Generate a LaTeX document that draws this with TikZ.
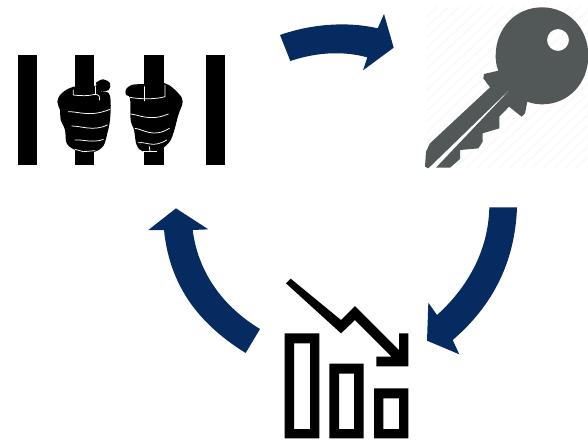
\documentclass[tikz,border=0pt]{standalone}
\definecolor{navy}{HTML}{062B60}
\definecolor{keygrey}{HTML}{525758}
\definecolor{hatch}{HTML}{FAFAFA}
\tikzset{
  zoomed/.style={x=0.33333pt,y=-0.33333pt},
  bigarrow/.style={fill=navy,draw=none},
  barshape/.style={fill=black,draw=none},
  handshape/.style={fill=black,draw=none},
  handline/.style={draw=white,line width=0.75pt,line cap=round},
  chartshape/.style={fill=black,draw=none,even odd rule},
}
\begin{document}
\begin{tikzpicture}[x=1pt,y=-1pt]
\useasboundingbox (0,0) rectangle (588,442);
% key background hatch
\begin{scope}
\clip (427,6) rectangle (588,168);
\foreach \k in {0,11,...,340}{
  \draw[hatch,line width=2pt] (427+\k-170,168) -- (427+\k,6);
}
\end{scope}
% prison bars and hands
\begin{scope}[shift={(0pt,-40pt)},zoomed]
\fill[barshape] (53,44) rectangle (112,375);
\fill[barshape] (224,44) rectangle (283,375);
\fill[barshape] (433,44) rectangle (491,375);
\fill[barshape] (617,44) rectangle (676,375);
\fill[handshape] plot[smooth cycle,tension=0.6] coordinates {(222,140) (185,160) (172,185) (180,210) (182,240) (195,270) (200,310) (225,330) (250,338) (285,335) (310,318) (322,280) (330,240) (332,185) (325,158) (300,156) (326,150) (330,130) (310,118) (288,128) (285,138)};
\fill[handshape] plot[smooth cycle,tension=0.6] coordinates {(495,130) (535,160) (548,185) (535,225) (520,280) (505,310) (470,335) (430,335) (410,315) (402,270) (392,240) (390,175) (378,165) (378,148) (395,135) (432,132)};
\draw[handline] (220,150) -- (220,165) .. controls (245,168) and (265,168) .. (285,163) .. controls (295,163) and (302,170) .. (298,180);
\draw[handline] (285,140) -- (285,163);
\draw[handline] (205,215) .. controls (240,215) and (270,232) .. (330,208);
\draw[handline] (215,258) .. controls (245,258) and (280,275) .. (322,255);
\draw[handline] (225,300) .. controls (250,298) and (280,310) .. (310,298);
\draw[handline] (225,328) -- (250,335) -- (285,332);
\draw[handline] (390,172) .. controls (420,178) and (470,178) .. (495,170) -- (495,135);
\draw[handline] (432,140) -- (432,183);
\draw[handline] (392,222) .. controls (420,225) and (450,245) .. (505,222);
\draw[handline] (405,265) .. controls (430,268) and (460,295) .. (508,265);
\draw[handline] (415,308) .. controls (440,305) and (460,325) .. (500,300);
\draw[handline] (430,335) -- (470,335);
\draw[handline] (448,320) -- (450,335);
\end{scope}
% key
\begin{scope}[shift={(410pt,0pt)},zoomed]
\fill[keygrey,even odd rule]
  (396,22) .. controls (475,22) and (535,85) .. (535,167)
  .. controls (535,250) and (475,313) .. (396,313)
  .. controls (380,313) and (365,310) .. (352,305)
  -- (345,340) -- (335,350) -- (297,320) -- (268,350) -- (268,385) -- (218,400)
  -- (218,425) -- (205,445) -- (150,450) -- (150,477) -- (120,503) -- (78,503)
  -- (318,250) -- (55,505) -- (45,500) -- (48,455) -- (60,430) -- (240,262)
  -- (220,235) -- (222,222) -- (265,212)
  .. controls (258,195) and (257,180) .. (257,167)
  .. controls (257,85) and (317,22) .. (396,22) -- cycle
  (444,120) circle[radius=33];
\end{scope}
% chart
\begin{scope}[shift={(270pt,-270pt)},zoomed]
\fill[chartshape] (44,190) rectangle (148,505) (72,220) rectangle (120,477);
\fill[chartshape] (178,281) rectangle (281,505) (207,311) rectangle (252,477);
\fill[chartshape] (312,355) rectangle (415,505) (340,385) rectangle (387,477);
\fill[chartshape] (48,40) -- (62,26) -- (213,150) -- (255,108) -- (387,240) -- (387,190)
  -- (415,190) -- (415,289) -- (319,289) -- (319,260) -- (365,260) -- (255,150) -- (213,190) -- cycle;
\end{scope}
% cycle arrows
\begin{scope}[shift={(270pt,-5pt)},zoomed]
\fill[bigarrow] (30,90) .. controls (120,58) and (230,48) .. (323,70) -- (342,27) -- (371,128)
  -- (279,196) -- (292,157) .. controls (210,135) and (130,145) .. (61,168) -- cycle;
\end{scope}
\begin{scope}[shift={(415pt,-200pt)},zoomed]
\fill[bigarrow] (223,22) -- (306,22) .. controls (300,190) and (230,320) .. (113,420)
  -- (133,463) -- (36,422) -- (40,308) -- (66,345) .. controls (160,260) and (220,150) .. (223,22) -- cycle;
\end{scope}
\begin{scope}[shift={(140pt,-200pt)},zoomed]
\fill[bigarrow] (360,387) -- (317,459) .. controls (190,380) and (90,270) .. (72,90)
  -- (25,90) -- (108,25) -- (205,88) -- (158,90) .. controls (175,220) and (250,320) .. (360,387) -- cycle;
\end{scope}
\end{tikzpicture}
\end{document}
